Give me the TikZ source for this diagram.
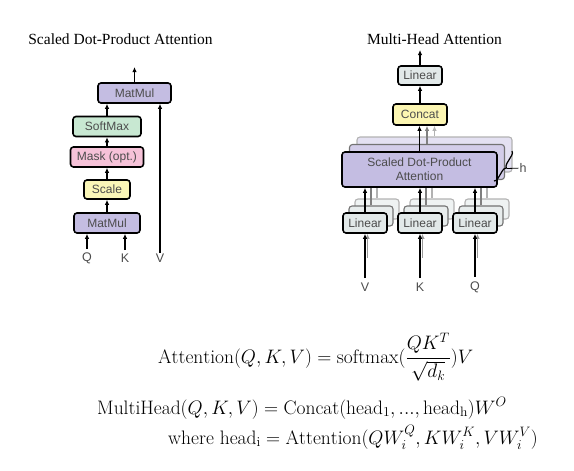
\RequirePackage{fix-cm}
\documentclass[tikz,border=0pt]{standalone}
\usepackage{amsmath}
\usepackage{fontspec}
\usetikzlibrary{arrows.meta,decorations.pathreplacing}

\newfontfamily\boxfont{Liberation Sans}
\newfontfamily\titlefont{Liberation Serif}

\definecolor{matmulpurple}{RGB}{196,189,226}
\definecolor{softgreen}{RGB}{200,232,210}
\definecolor{maskpink}{RGB}{246,194,216}
\definecolor{scaleyellow}{RGB}{250,246,184}
\definecolor{concatyellow}{RGB}{252,246,178}
\definecolor{lingray}{RGB}{226,233,233}

\tikzset{
    block/.style={draw=black,line width=1.6pt,rounded corners=3pt,inner sep=0pt,text=black!70,font=\boxfont\fontsize{12}{14}\selectfont},
    backblock/.style={block,line width=1.1pt},
    flow/.style={line width=1.5pt,-{Latex[length=5pt,width=4.5pt]}},
    inlabel/.style={inner sep=1pt,text=black!70,font=\boxfont\fontsize{12.5}{14}\selectfont},
    heading/.style={inner sep=0pt,anchor=base,font=\titlefont\fontsize{15.5}{18}\selectfont},
    formula/.style={inner sep=0pt,anchor=base west,font=\fontsize{19.5}{23}\selectfont},
}

\begin{document}
\begin{tikzpicture}[x=1pt,y=-1pt]
                \useasboundingbox (0,0) rectangle (574,471);

                \node[heading] (sdtitle) at (120.5,44) {Scaled Dot-Product Attention};
                \node[heading] (mhtitle) at (434.5,44) {Multi-Head Attention};

                \node[block,fill=matmulpurple,minimum width=66pt,minimum height=20pt] (matmulA) at (107,223) {MatMul};
                \node[block,fill=scaleyellow,minimum width=46pt,minimum height=19pt] (scale) at (107,189.5) {Scale};
                \node[block,fill=maskpink,minimum width=73pt,minimum height=20pt] (mask) at (107,157) {Mask (opt.)};
                \node[block,fill=softgreen,minimum width=68pt,minimum height=20pt] (softmax) at (107,126.5) {SoftMax};
                \node[block,fill=matmulpurple,minimum width=73pt,minimum height=20pt] (matmulB) at (134.5,93) {MatMul};
                \coordinate (sdout) at (134.5,67);

                \node[inlabel] (qA) at (87,258) {Q};
                \node[inlabel] (kA) at (125,258) {K};
                \node[inlabel] (vA) at (160,258) {V};

                \draw[flow,shorten <=2.5pt] (qA) -- (qA |- matmulA.south);
                \draw[flow,shorten <=2.5pt] (kA) -- (kA |- matmulA.south);
                \draw[flow] (vA) -- (vA |- matmulB.south);
                \draw[flow] (matmulA) -- (scale);
                \draw[flow] (scale) -- (mask);
                \draw[flow] (mask) -- (softmax);
                \draw[flow] (softmax) -- (softmax |- matmulB.south);
                \draw[flow] (matmulB) -- (sdout);

                \node[block,fill=lingray,minimum width=44pt,minimum height=19pt] (linear) at (420,75.5) {Linear};
                \node[block,fill=concatyellow,minimum width=54pt,minimum height=21pt] (concat) at (420,114.5) {Concat};
                \coordinate (mhout) at (420,50);

                \node[backblock,draw=black!30,fill=matmulpurple!45,minimum width=155pt,minimum height=35pt] (attC) at (434.5,154.5) {};
                \node[backblock,draw=black!55,fill=matmulpurple!75,minimum width=155pt,minimum height=35pt] (attB) at (427,162) {};

                \foreach \x in {365,420,475} {
                    \node[backblock,draw=black!30,fill=lingray!55,minimum width=44pt,minimum height=20pt] (linC\x) at (\x+12,209) {};
                    \node[backblock,draw=black!55,fill=lingray!80,minimum width=44pt,minimum height=20pt] (linB\x) at (\x+6,216) {};
                    \draw[flow,black!30,line width=1.1pt] (linC\x) -- (linC\x |- attB.south);
                    \draw[flow,black!50,line width=1.1pt] (linB\x) -- (linB\x |- attB.south);
                }

                \node[block,fill=matmulpurple,minimum width=155pt,minimum height=35pt,align=center] (attA) at (419.5,169.5) {Scaled Dot-Product\\Attention};

                \foreach \x/\s in {365/V,420/K,475/Q} {
                    \node[block,fill=lingray,minimum width=44pt,minimum height=20pt] (linA\x) at (\x,223) {Linear};
                    \node[inlabel] (in\x) at (\x,287.5) {\s};
                    \draw[flow,black!40,line width=1pt] ([xshift=2.5pt,yshift=-24pt]linA\x.south) -- ([xshift=2.5pt]linA\x.south);
                    \draw[flow,shorten <=4pt] (in\x) -- (in\x |- linA\x.south);
                    \draw[flow] (linA\x) -- (linA\x |- attA.south);
                }

                \draw[flow,black!30] (attC) -- (attC |- concat.south);
                \draw[flow,black!50] (attB) -- (attB |- concat.south);
                \draw[flow] (attA) -- (attA |- concat.south);
                \draw[flow] (concat) -- (linear);
                \draw[flow] (linear) -- (mhout);

                \coordinate (braceA) at (512,151);
                \coordinate (braceB) at (494,181);
                \coordinate (bracetip) at (507,168.5);
                \node[inlabel] (heads) at (523,168) {h};
                \draw[line width=1.2pt,decorate,decoration={brace,amplitude=4pt}] (braceA) -- (braceB);
                \draw[line width=0.8pt] (bracetip) -- (heads);

                \node[formula] (eqA) at (158,363) {$\mathrm{Attention}(Q,K,V)=\mathrm{softmax}(\dfrac{QK^T}{\sqrt{d_k}})V$};
                \node[formula] (eqB) at (97,414) {$\mathrm{MultiHead}(Q,K,V)=\mathrm{Concat}(\mathrm{head_1},...,\mathrm{head_h})W^O$};
                \node[formula] (eqC) at (168,444) {where $\mathrm{head_i}=\mathrm{Attention}(QW_i^Q,KW_i^K,VW_i^V)$};

            \end{tikzpicture}
\end{document}
